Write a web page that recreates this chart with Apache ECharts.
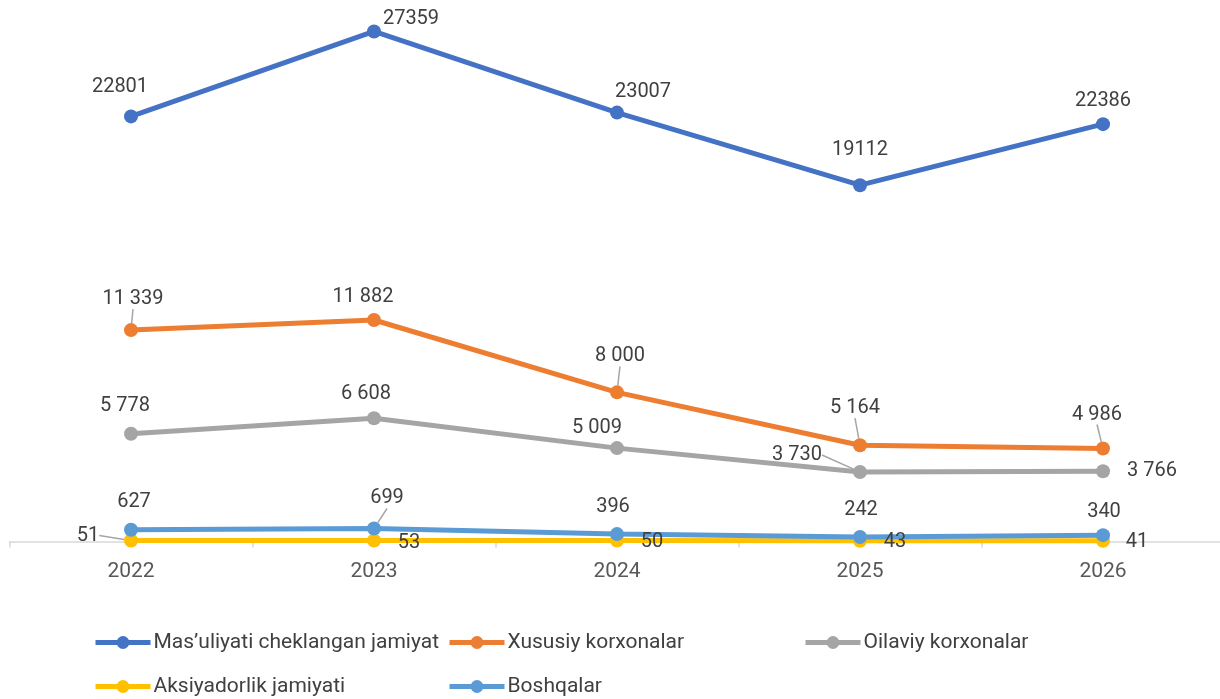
<!DOCTYPE html>
<html>
<head>
<meta charset="utf-8">
<script src="https://cdn.jsdelivr.net/npm/echarts@6/dist/echarts.min.js"></script>
<style>
  html, body { margin: 0; padding: 0; background: #fff; }
  #chart { width: 1220px; height: 699px; }
</style>
</head>
<body>
<div id="chart"></div>
<script>
const years = ['2022', '2023', '2024', '2025', '2026'];
const mcj = [22801, 27359, 23007, 19112, 22386];
const xususiy = [11339, 11882, 8000, 5164, 4986];
const oilaviy = [5778, 6608, 5009, 3730, 3766];
const aksiyadorlik = [51, 53, 50, 43, 41];
const boshqalar = [627, 699, 396, 242, 340];

// label offsets from the point centre [dx, dy, leader line]
const mcjLabels = [[-11, -29, 0], [37, -12, 0], [26, -21, 0], [0, -35, 0], [0, -23, 0]];
const xususiyLabels = [[2, -31, 1], [-11, -23, 0], [3, -36, 1], [-5, -37, 1], [-6, -34, 1]];
const oilaviyLabels = [[-6, -28, 0], [-8, -24, 0], [-20, -20, 0], [-63, -17, 1], [49, 0, 0]];
const aksiyadorlikLabels = [[-43, -5, 1], [35, 2, 0], [35, 1, 0], [35, 1, 0], [34, 1, 0]];
const boshqalarLabels = [[3, -28, 0], [13, -30, 1], [-4, -27, 0], [1, -27, 0], [1, -23, 0]];

const FONT = 'Roboto';
const TEXT = '#404040';

function spaced(v) {
  return String(v).replace(/\B(?=(\d{3})+(?!\d))/g, ' ');
}

function makeSeries(name, values, color, offsets, plain) {
  return {
    name: name,
    type: 'line',
    data: values.map((v, i) => ({
      value: v,
      labelLine: { show: offsets[i][2] === 1 }
    })),
    symbol: 'circle',
    symbolSize: 14,
    lineStyle: { width: 5, color: color },
    itemStyle: { color: color },
    label: {
      show: true,
      fontFamily: FONT,
      fontSize: 20,
      color: TEXT,
      formatter: p => plain ? String(p.value) : spaced(p.value)
    },
    labelLine: {
      show: true,
      lineStyle: { color: '#a6a6a6', width: 1.5 }
    },
    labelLayout: function (params) {
      const off = offsets[params.dataIndex];
      const cx = params.rect.x + params.rect.width / 2;
      const cy = params.rect.y + params.rect.height / 2;
      return {
        x: cx + off[0],
        y: cy + off[1],
        align: 'center',
        verticalAlign: 'middle'
      };
    },
    animation: false
  };
}

function makeLegend(name, left, top) {
  return {
    data: [name],
    left: left,
    top: top,
    padding: 0,
    itemWidth: 55,
    itemHeight: 16,
    itemGap: 0,
    lineStyle: { width: 5 },
    textStyle: { fontFamily: FONT, fontSize: 21, color: TEXT, padding: [0, 0, 0, -2] }
  };
}

const chart = echarts.init(document.getElementById('chart'));

chart.setOption({
  animation: false,
  backgroundColor: '#ffffff',
  grid: {
    left: 9.5, width: 1215, top: 19.5, bottom: 157.5,
    containLabel: false, outerBoundsMode: 'none'
  },
  legend: [
    makeLegend('Mas\u2019uliyati cheklangan jamiyat', 93, 632),
    makeLegend('Xususiy korxonalar', 447, 632),
    makeLegend('Oilaviy korxonalar', 803, 632),
    makeLegend('Aksiyadorlik jamiyati', 93, 676),
    makeLegend('Boshqalar', 447, 676)
  ],
  xAxis: {
    type: 'category',
    data: years,
    boundaryGap: true,
    axisLine: { lineStyle: { color: '#d9d9d9', width: 1.5 } },
    axisTick: { show: true, length: 6, lineStyle: { color: '#d9d9d9', width: 1.5 } },
    axisLabel: { fontFamily: FONT, fontSize: 21, color: '#595959', margin: 20 }
  },
  yAxis: {
    type: 'value',
    min: 0,
    max: 28000,
    show: false,
    splitLine: { show: false }
  },
  series: [
    makeSeries('Mas\u2019uliyati cheklangan jamiyat', mcj, '#4472C4', mcjLabels, true),
    makeSeries('Xususiy korxonalar', xususiy, '#ED7D31', xususiyLabels, false),
    makeSeries('Oilaviy korxonalar', oilaviy, '#A5A5A5', oilaviyLabels, false),
    makeSeries('Aksiyadorlik jamiyati', aksiyadorlik, '#FFC000', aksiyadorlikLabels, true),
    makeSeries('Boshqalar', boshqalar, '#5B9BD5', boshqalarLabels, true)
  ]
});
</script>
</body>
</html>
